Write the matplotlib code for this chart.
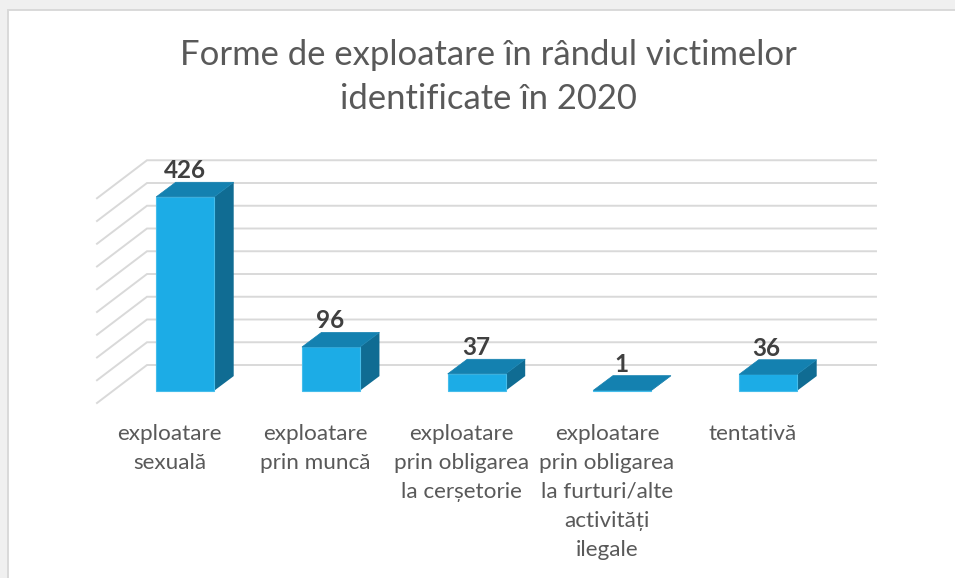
import matplotlib
matplotlib.use("Agg")
import matplotlib.pyplot as plt
from matplotlib.patches import Rectangle

plt.rcParams['font.family'] = ['Lato', 'DejaVu Sans']

# Data
categories = [
    "exploatare\nsexuală",
    "exploatare\nprin muncă",
    "exploatare\nprin obligarea\nla cerșetorie",
    "exploatare\nprin obligarea\nla furturi/alte\nactivități\nilegale",
    "tentativă",
]
values = [426, 96, 37, 1, 36]
grid_values = [0, 50, 100, 150, 200, 250, 300, 350, 400, 450]
title = "Forme de exploatare în rândul victimelor\nidentificate în 2020"

W, H = 955, 578

# layout in pixels
x0 = 185.2       # centre of first bar
x_step = 145.75
bar_w = 58
base_y = 390.7   # bottom of bar fronts
px_per_unit = 0.455
bar_dx, bar_dy = 19.5, 14.6
wall_y = 365     # value 0 on back wall
wall_x0, wall_x1 = 147, 876
floor_x, floor_y = 97, 403

FRONT = "#1CACE6"
TOP = "#1481B0"
SIDE = "#106C93"
GRID = "#D9D9D9"

fig = plt.figure(figsize=(W / 100, H / 100), dpi=100, facecolor="#F0F0F0")

# axes filling the figure, data scale: x = category index, y = value
ax = fig.add_axes([0, 0, 1, 1])
ax.set_xlim(-x0 / x_step, (W - x0) / x_step)
ax.set_ylim((base_y - H) / px_per_unit, base_y / px_per_unit)
ax.axis("off")

# chart area
bg = Rectangle((8 / W, -0.01), 1, (H - 9.5) / H + 0.01, transform=ax.transAxes,
               facecolor="white", edgecolor=GRID, linewidth=1.4, zorder=0)
ax.add_patch(bg)


def dx(px):
    return px / x_step


def dy(px):
    return px / px_per_unit


# grid: y offsets relative to the plane of the bar fronts
for g in grid_values:
    back = g + dy(base_y - wall_y)
    front = g + dy(base_y - floor_y)
    x_back = (wall_x0 - x0) / x_step
    x_end = (wall_x1 - x0) / x_step
    x_front = (floor_x - x0) / x_step
    ax.plot([x_front, x_back, x_end], [front, back, back], color=GRID, lw=1.4,
            solid_joinstyle="miter", zorder=1)

# bars
for i, v in enumerate(values):
    l = i - dx(bar_w) / 2
    r = i + dx(bar_w) / 2
    ox, oy = dx(bar_dx), dy(bar_dy)
    ax.fill([r, r + ox, r + ox, r], [0, oy, v + oy, v], color=SIDE, lw=0, zorder=3)
    ax.fill([l, r, r, l], [0, 0, v, v], color=FRONT, lw=0.8, ec="#45BDEB", zorder=3)
    ax.fill([l, r, r + ox, l + ox], [v, v, v + oy, v + oy], color=TOP, lw=0.5, ec=TOP, zorder=3)
    ax.annotate(str(v), (i, v + oy), xytext=(-0.33 * i, 0), textcoords="offset points",
                ha="center", va="bottom", fontsize=17.5, fontweight="bold",
                color="#404040", zorder=4)
    # category labels
    ax.annotate(categories[i], (i, 0), xytext=(-15.5 * 0.72, -(424 - base_y) * 0.72),
                textcoords="offset points", ha="center", va="top", fontsize=16.2,
                color="#595959", linespacing=1.56, zorder=4)

fig.text(488.5 / W, 1 - 77 / H, title, ha="center", va="center", fontsize=24.9,
         color="#595959", linespacing=1.46)

fig.savefig("out.png", dpi=100, facecolor=fig.get_facecolor())
